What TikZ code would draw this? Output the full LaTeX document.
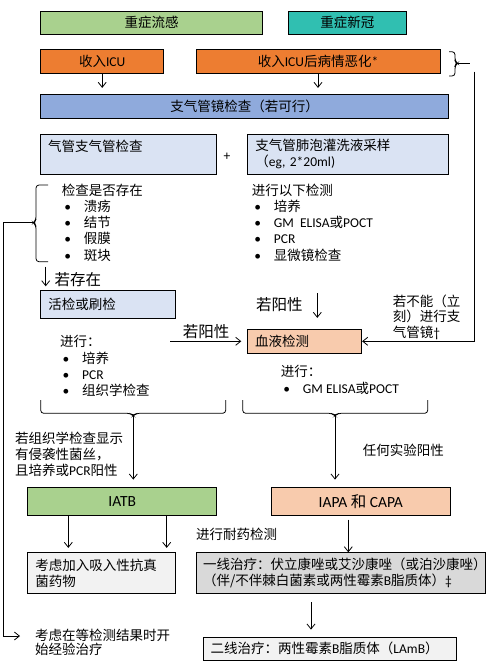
\documentclass[tikz,border=0pt]{standalone}
\usepackage{fontspec}
\usetikzlibrary{arrows.meta}
\setmainfont{Noto Sans CJK SC}
\newfontfamily\lat{Carlito}
\newcommand\fs{\fontsize{13.5pt}{16.2pt}\selectfont}
\newcommand\fsb{\fontsize{15.5pt}{18pt}\selectfont}
\newcommand\itm[1]{\hspace*{2.5pt}\makebox[19.5pt][l]{\lat\textbullet}#1}
\definecolor{flugreen}{HTML}{A9D18E}
\definecolor{covteal}{HTML}{30BFB1}
\definecolor{icuorange}{HTML}{ED7D31}
\definecolor{bronchblue}{HTML}{8FAADC}
\definecolor{paleblue}{HTML}{DAE3F3}
\definecolor{peach}{HTML}{F8CBAD}
\definecolor{midgray}{HTML}{D9D9D9}
\definecolor{palegray}{HTML}{F2F2F2}

\begin{document}
\begin{tikzpicture}[x=1pt, y=-1pt, font=\fs, >={Straight Barb[length=5pt,width=8pt]},
  box/.style={draw, line width=0.8pt, inner sep=0pt, minimum height=23.3pt},
  lst/.style={align=left, inner sep=0pt, anchor=north west},
  arr/.style={->, line width=0.8pt},
  ln/.style={line width=0.8pt}]
\useasboundingbox (0,0) rectangle (490,672);

% top row
\node (flu) [box, fill=flugreen, minimum width=221.6pt] at (151.5,22.7) {重症流感};
\node (covid) [box, fill=covteal, minimum width=118pt] at (347.3,22.7) {重症新冠};
\node (icu) [box, fill=icuorange, minimum width=123pt] at (102.2,61.35) {收入{\lat ICU}};
\node (worse) [box, fill=icuorange, minimum width=244pt] at (318,61.35) {收入{\lat ICU}后病情恶化{\lat *}};
\node (bronch) [box, fill=bronchblue, minimum width=407.6pt, minimum height=23.7pt] at (244.5,106.15) {支气管镜检查（若可行）};
\draw[arr, shorten <=1pt, shorten >=6pt] (icu) -- (icu |- bronch.north);
\draw[arr, shorten <=1pt, shorten >=6pt] (worse) -- (worse |- bronch.north);

% right brace
\draw[ln, rounded corners=3pt] (449,51.7) -- (455,51.7) -- (455,61) -- (457.5,63.3) -- (455,65.6) -- (455,76) -- (449,76);
\draw[ln] (457.5,63.3) -- (470,63.3);

% bronchoscopy
\node (trach) [box, fill=paleblue, minimum width=175.6pt, minimum height=40.3pt, text width=161pt, align=left] at (128.5,154.15) {气管支气管检查\\ \mbox{}};
\node (plus) at (227,156.7) {\lat +};
\node (bal) [box, fill=paleblue, minimum width=201pt, minimum height=40.3pt, text width=185pt, align=left] at (347.8,154.15) {支气管肺泡灌洗液采样\\（{\lat eg, 2*20ml)}};

% left brace
\draw[ln, rounded corners=3pt] (48,185) -- (36,185) -- (36,220) -- (33.3,222.7) -- (36,225.4) -- (36,261.7) -- (48,261.7);
\coordinate (brL) at (33.3,222.7);

\node (check) [lst] at (61.7,183.6) {检查是否存在\\\itm{溃疡}\\\itm{结节}\\\itm{假膜}\\\itm{斑块}};
\node (tests) [lst] at (251.7,183.6) {进行以下检测\\\itm{培养}\\\itm{{\lat GM\ \ ELISA}或{\lat POCT}}\\\itm{\lat PCR}\\\itm{显微镜检查}};

% biopsy and blood
\coordinate (exist) at (45.7,266.7);
\node (biopsy) [box, fill=paleblue, minimum width=134.3pt, minimum height=27.6pt, text width=119pt, align=left] at (107.85,304.5) {活检或刷检};
\draw[arr, shorten >=4pt] (exist) -- (exist |- biopsy.north);
\node (ifexist) [font=\fsb, anchor=west, inner sep=0pt] at (54.3,280) {若存在};

\node (blood) [box, fill=peach, minimum width=114.4pt, minimum height=24pt, text width=99pt, align=left] at (304.5,341.3) {血液检测};
\coordinate (testsend) at (317.3,293.3);
\draw[arr, shorten >=11pt] (testsend) -- (testsend |- blood.north);
\node (pos1) [font=\fsb, anchor=west, inner sep=0pt] at (256,305) {若阳性};

\coordinate (bioend) at (170,341.3);
\draw[arr, shorten >=5.6pt] (bioend) -- (blood.west);
\node (pos2) [font=\fsb, anchor=west, inner sep=0pt] at (182.7,331.7) {若阳性};

\coordinate (nobr) at (474,71.7);
\draw[arr] (nobr) |- (blood.east);
\node (cannot) [lst, font=\fontsize{13.5pt}{15.5pt}\selectfont] at (392.7,294.3) {若不能（立\\刻）进行支\\气管镜{\lat †}};

\node (biolist) [lst] at (60,335.3) {进行：\\\itm{培养}\\\itm{\lat PCR}\\\itm{组织学检查}};
\node (bloodlist) [lst] at (280.7,365.3) {进行：\\\itm{{\lat GM ELISA}或{\lat POCT}}};

% bottom braces
\draw[ln, rounded corners=3pt] (40.7,400) -- (40.7,413.3) -- (130.3,413.3) -- (133.3,416) -- (136.3,413.3) -- (225.7,413.3) -- (225.7,400);
\draw[ln, rounded corners=3pt] (242.7,400) -- (242.7,413.3) -- (332,413.3) -- (335,416) -- (338,413.3) -- (427.7,413.3) -- (427.7,400);
\coordinate (brB1) at (133.3,415);
\coordinate (brB2) at (335,415);

% diagnosis
\node (iatb) [box, fill=flugreen, minimum width=189pt, minimum height=28pt, font=\fsb] at (122.2,501.7) {\lat IATB};
\node (iapa) [box, fill=peach, minimum width=178.3pt, minimum height=28pt, font=\fsb] at (360.8,501.7) {{\lat IAPA} 和 {\lat CAPA}};
\draw[arr, shorten >=7.7pt] (brB1) -- (brB1 |- iatb.north);
\draw[arr, shorten >=7.7pt] (brB2) -- (brB2 |- iapa.north);
\node (histo) [lst, font=\fontsize{13.5pt}{15.8pt}\selectfont] at (15,431.9) {若组织学检查显示\\有侵袭性菌丝，\\且培养或{\lat PCR}阳性};
\node (anypos) [anchor=west, inner sep=0pt] at (362.7,450) {任何实验阳性};

% treatment
\node (inhal) [box, fill=palegray, minimum width=147.3pt, minimum height=40.6pt, text width=132pt, align=left] at (101.35,573) {考虑加入吸入性抗真\\菌药物};
\node (first) [box, fill=midgray, minimum width=289pt, minimum height=40.6pt, text width=275pt, align=left] at (340.5,573) {一线治疗：伏立康唑或艾沙康唑（或泊沙康唑）\\（伴/不伴棘白菌素或两性霉素{\lat B}脂质体）{\lat ‡}};
\node (second) [box, fill=palegray, minimum width=252.7pt, minimum height=22.7pt, text width=238pt, align=left] at (329.65,648.65) {二线治疗：两性霉素{\lat B}脂质体（{\lat LAmB}）};
\draw[arr, shorten >=4.4pt] (iatb.south -| 68.3,0) -- (inhal.north -| 68.3,0);
\draw[arr, shorten >=4.4pt] (iatb.south -| 166.7,0) -- (inhal.north -| 166.7,0);
\draw[arr, shorten <=3.6pt] (iapa.south -| 348.3,0) -- (first.north -| 348.3,0);
\node (resist) [anchor=west, inner sep=0pt] at (196,534) {进行耐药检测};
\draw[arr, shorten <=8.4pt, shorten >=7.3pt] (first.south -| 311,0) -- (second.north -| 311,0);

% empirical
\coordinate (emp) at (20,636);
\draw[arr] (brL) -- (brL -| 3.3,0) |- (emp);
\node (empiric) [lst, font=\fontsize{13.5pt}{14.5pt}\selectfont] at (35,628.6) {考虑在等检测结果时开\\始经验治疗};
\end{tikzpicture}
\end{document}
